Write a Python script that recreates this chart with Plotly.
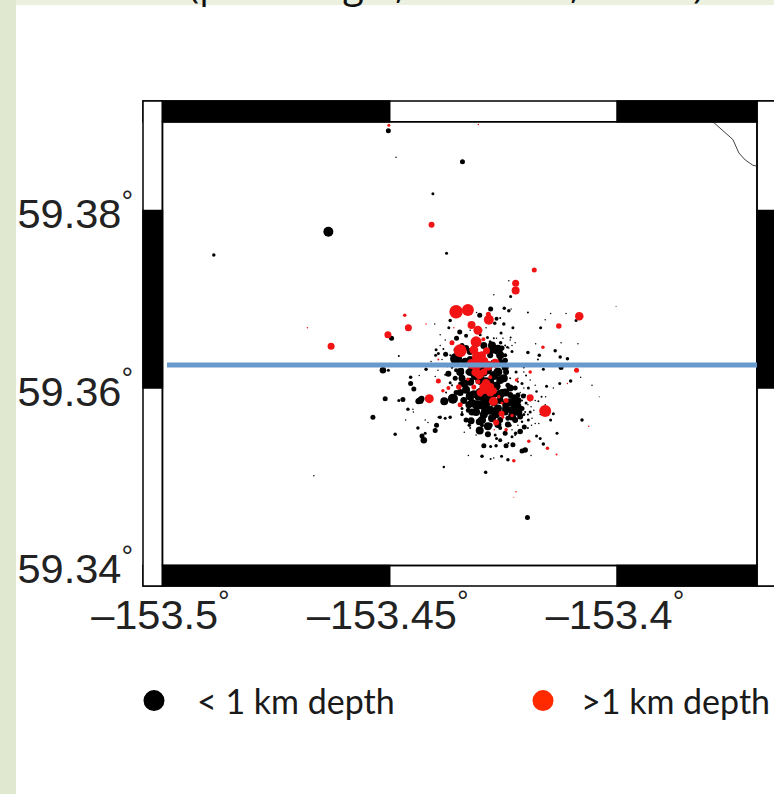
import plotly.graph_objects as go

# Earthquakes shallower than 1 km (lon, lat, marker diameter)
black_lon = [
-153.4503,-153.4486,-153.4340,-153.4405,-153.4375,-153.4635,-153.4887,-153.4002,-153.4496,-153.4480,
-153.4399,-153.4393,-153.4409,-153.4515,-153.4503,-153.4420,-153.4454,-153.4435,-153.4400,-153.4454,
-153.4447,-153.4510,-153.4480,-153.4471,-153.4430,-153.4437,-153.4433,-153.4460,-153.4449,-153.4448,
-153.4537,-153.4465,-153.4422,-153.4416,-153.4392,-153.4397,-153.4400,-153.4422,-153.4438,-153.4488,
-153.4429,-153.4425,-153.4667,-153.4381,-153.4288,-153.4197,
-153.4238,-153.4234,-153.4271,-153.4248,-153.4238,-153.4233,-153.4278,-153.4302,-153.4309,-153.4265,
-153.4257,-153.4269,-153.4249,-153.4229,-153.4255,-153.4265,-153.4234,-153.4367,-153.4401,-153.4370,
-153.4346,-153.4389,-153.4332,-153.4353,-153.4301,-153.4285,-153.4271,-153.4279,-153.4256,-153.4241,
-153.4238,-153.4196,-153.4146,-153.4112,-153.4090,-153.4158,-153.4168,-153.4179,-153.4123,-153.4086,
-153.4136,-153.4196,-153.4171,-153.4125,-153.4109,-153.4174,-153.4246,-153.4205,-153.4162,-153.4123,
-153.4080,-153.4102,-153.4126,-153.4155,-153.4140,-153.4055,-153.4039,-153.4195,-153.4177,-153.4206,
-153.4166,-153.4157,-153.4173,-153.4189,-153.4140,-153.4146,-153.4077,-153.4132,-153.4177,-153.4172,
-153.4180,-153.4188,-153.4195,-153.4204,-153.4213,-153.4223,-153.4169,-153.4162,-153.4202,-153.4209,
-153.4189,-153.4229,-153.4244,-153.4239,-153.4257,-153.4265,-153.4293,-153.4278,-153.4266,-153.4297,
-153.4327,-153.4278,-153.4271,-153.4254,-153.4240,-153.4289,-153.4302,-153.4284,-153.4303,-153.4321,
-153.4325,-153.4336,-153.4341,-153.4367,-153.4389,-153.4378,-153.4361,-153.4380,-153.4371,-153.4356,
-153.4354,-153.4382,-153.4398,-153.4377,-153.4326,-153.4342,-153.4353,-153.4221,-153.4224,-153.4217,
-153.4341,-153.4323,-153.4275,-153.4262,-153.4279,-153.4334,-153.4246,-153.4231,-153.4257,-153.4235,
-153.4323,-153.4306,-153.4284,-153.4262,-153.4244,-153.4222,-153.4341,-153.4323,-153.4301,-153.4279,
-153.4257,-153.4240,-153.4224,-153.4209,-153.4332,-153.4315,-153.4293,-153.4271,-153.4253,-153.4235,
-153.4218,-153.4337,-153.4319,-153.4301,-153.4279,-153.4262,-153.4246,-153.4231,-153.4209,-153.4200,
-153.4191,-153.4310,-153.4293,-153.4275,-153.4257,-153.4240,-153.4224,-153.4205,-153.4306,-153.4284,
-153.4257,-153.4354,-153.4345,-153.4367,-153.4354,-153.4374,-153.4297,-153.4279,-153.4257,-153.4235,
-153.4246,-153.4231,-153.4268,-153.4327,-153.4341,-153.4319,-153.4202,-153.4191,-153.4218,-153.4200,
-153.4213,-153.4191,-153.4180,-153.4235,-153.4328,-153.4312,-153.4273,-153.4253,-153.4227,-153.4213,
-153.4244,-153.4270,-153.4288,
-153.4213,-153.4205,-153.4196,-153.4213,-153.4231,-153.4218,-153.4196,-153.4183,-153.4169,-153.4187,
-153.4158,-153.4235,-153.4251,-153.4224,-153.4323,-153.4288,-153.4378,-153.4389,-153.4356,-153.4394,
-153.4345,-153.4315,-153.4293,-153.4271,-153.4249,-153.4336,-153.4312,-153.4288,-153.4266,-153.4246,
-153.4345,-153.4323,-153.4301,-153.4279,-153.4257,-153.4235,-153.4310,-153.4288,-153.4266,-153.4244,
-153.4297,-153.4284,-153.4262,-153.4240,-153.4319,-153.4332,-153.4231,-153.4227,-153.4218,-153.4235,
-153.4246,-153.4275,-153.4293,-153.4310,-153.4257,-153.4290,-153.4354,-153.4332,-153.4301,-153.4323,
-153.4209,-153.4202,-153.4196,-153.4180,-153.4224,-153.4209,-153.4196,-153.4218,-153.4205,-153.4231,
-153.4246,-153.4367,-153.4385,-153.4363,-153.4378,-153.4363,-153.4376,-153.4341,-153.4323,-153.4310]
black_lat = [
59.3890,59.3860,59.3855,59.3819,59.3752,59.3776,59.3750,59.3692,59.3656,59.3636,
59.3637,59.3639,59.3630,59.3620,59.3620,59.3621,59.3612,59.3614,59.3613,59.3605,
59.3599,59.3588,59.3586,59.3587,59.3588,59.3585,59.3586,59.3576,59.3576,59.3573,
59.3567,59.3564,59.3564,59.3561,59.3567,59.3558,59.3552,59.3549,59.3555,59.3548,
59.3546,59.3541,59.3501,59.3511,59.3504,59.3454,
59.3721,59.3703,59.3705,59.3690,59.3687,59.3689,59.3689,59.3682,59.3685,59.3678,
59.3679,59.3673,59.3672,59.3668,59.3662,59.3656,59.3657,59.3676,59.3672,59.3668,
59.3663,59.3660,59.3659,59.3656,59.3660,59.3657,59.3656,59.3652,59.3651,59.3646,
59.3645,59.3685,59.3684,59.3684,59.3676,59.3677,59.3668,59.3650,59.3651,59.3650,
59.3642,59.3640,59.3637,59.3635,59.3633,59.3632,59.3631,59.3623,59.3621,59.3623,
59.3612,59.3608,59.3605,59.3602,59.3600,59.3603,59.3590,59.3600,59.3596,59.3591,
59.3590,59.3590,59.3585,59.3579,59.3571,59.3564,59.3564,59.3549,59.3546,59.3560,
59.3560,59.3558,59.3564,59.3556,59.3551,59.3549,59.3543,59.3537,59.3530,59.3529,
59.3524,59.3536,59.3535,59.3538,59.3541,59.3543,59.3535,59.3534,59.3535,59.3523,
59.3524,59.3520,59.3521,59.3523,59.3519,59.3505,59.3552,59.3548,59.3562,59.3563,
59.3558,59.3550,59.3570,59.3567,59.3567,59.3566,59.3588,59.3585,59.3616,59.3611,
59.3633,59.3644,59.3643,59.3638,59.3581,59.3620,59.3628,59.3579,59.3585,59.3573,
59.3648,59.3641,59.3648,59.3643,59.3637,59.3629,59.3637,59.3641,59.3629,59.3626,
59.3618,59.3623,59.3620,59.3618,59.3618,59.3618,59.3611,59.3607,59.3609,59.3607,
59.3609,59.3603,59.3600,59.3605,59.3598,59.3593,59.3589,59.3584,59.3595,59.3592,
59.3592,59.3586,59.3583,59.3581,59.3575,59.3577,59.3573,59.3575,59.3577,59.3583,
59.3573,59.3573,59.3570,59.3566,59.3564,59.3566,59.3564,59.3570,59.3589,59.3595,
59.3586,59.3595,59.3605,59.3606,59.3620,59.3625,59.3558,59.3558,59.3555,59.3558,
59.3549,59.3545,59.3547,59.3575,59.3577,59.3564,59.3592,59.3586,59.3607,59.3614,
59.3626,59.3609,59.3603,59.3611,59.3618,59.3634,59.3629,59.3645,59.3589,59.3568,
59.3582,59.3593,59.3582,
59.3595,59.3600,59.3591,59.3586,59.3553,59.3558,59.3581,59.3575,59.3570,59.3566,
59.3581,59.3654,59.3656,59.3651,59.3665,59.3668,59.3654,59.3648,59.3641,59.3620,
59.3618,59.3629,59.3618,59.3614,59.3611,59.3605,59.3614,59.3607,59.3602,59.3595,
59.3595,59.3591,59.3595,59.3589,59.3593,59.3584,59.3581,59.3575,59.3571,59.3577,
59.3564,59.3557,59.3559,59.3559,59.3573,59.3564,59.3568,59.3575,59.3586,59.3600,
59.3623,59.3643,59.3648,59.3654,59.3637,59.3626,59.3643,59.3645,59.3636,59.3632,
59.3586,59.3573,59.3570,59.3586,59.3547,59.3562,59.3555,59.3611,59.3618,59.3648,
59.3648,59.3637,59.3632,59.3623,59.3615,59.3603,59.3595,59.3573,59.3555,59.3547]
black_mag = [
5,1.5,5,3,3,10,3.5,1,5,2,
3,3,1.5,6.5,3,3.5,3.5,1.5,1.5,5,
5,5,3,5,6,6,7,3.5,1.5,1.5,
5,1.5,1.5,1.5,2.5,5,5,3,3.5,3.5,
5,6.5,1.5,2.5,1.5,5,
1.5,3,1.5,3.5,3.5,1.5,5,5,1.5,4,
2,3.5,3.5,3,3,1.5,2,3.5,1.5,3,
5,1.5,4,5,3,3,2,3,3.5,2.5,
1.5,2,1.5,1.5,3,1.5,3,1.5,1.5,1.5,
3.5,3.5,3.5,3.5,3.5,2,5.5,2,3,5,
1.5,3.5,3,3,1.5,1.5,1,3,2.5,5,
2,1.5,2,1.5,3,3,3.5,3,3,1.5,
1.5,1.5,3,5,5.5,3.5,3,3.5,5.5,5,
1.5,5,5,2,4,3,5,3,3.5,3.5,
1.5,2,1.5,3,3.5,3.5,8,6,7,7,
3.5,1.5,3.5,3.5,3.5,3,10,8,6,5,
12,2,3,5,7,5,5,10,7,8,
5,7,8,10,6,9,4,3,7,4,
8,9,8,9,6,3,7,8,10,8,
8,5,5,3,8,8,9,8,7,6,
5,7,8,9,9,8,7,8,5,3,
3,8,8,8,6,5,6,3,6,7,
7,5,4,3,4,3,4,5,4,3,
5,3,3,5,3,3,2,2,2,2,
2,1.5,1.5,2,5,5,5,5,7,6,
8,7,8,
1.5,1.5,1.5,1.5,1.5,1.5,1.5,1.5,1.5,1.5,
1.5,1.5,1.5,1.5,1.5,1.5,1.5,1.5,1.5,1.5,
8,8,9,9,8,8,9,9,9,8,
7,9,9,9,9,8,9,10,9,8,
8,8,7,6,7,5,8,9,7,7,
7,8,7,5,8,8,5,6,6,7,
2,2,2,1.5,2,2.5,2,1.5,1.5,1.5,
2,2,1.5,2.5,2,2,2,2,2,1.5]

# Earthquakes deeper than 1 km (lon, lat, marker diameter)
red_lon = [
-153.4182,-153.4223,-153.4223,-153.4083,-153.4128,-153.4354,-153.4328,-153.4282,-153.4283,-153.4320,
-153.4306,-153.4467,-153.4459,-153.4420,-153.4359,-153.4310,-153.4363,-153.4294,-153.4345,-153.4315,
-153.4287,-153.4307,-153.4320,-153.4294,-153.4268,-153.4303,-153.4316,-153.4279,-153.4393,-153.4221,
-153.4191,-153.4089,-153.4163,-153.4393,-153.4371,-153.4383,-153.4348,-153.4413,-153.4328,-153.4315,
-153.4294,-153.4279,-153.4294,-153.4272,-153.4300,-153.4283,-153.4272,-153.4260,-153.4244,-153.4253,
-153.4345,-153.4191,-153.4158,-153.4254,-153.4266,-153.4231,-153.4251,-153.4244,-153.4270,-153.4194,
-153.4153,-153.4133,-153.4227,-153.4062,-153.4109,-153.4502,-153.4305,-153.4408,-153.4629,-153.4681,
-153.4504,-153.4222,-153.4227,
-153.4306,-153.4284,-153.4297,-153.4310,-153.4293,-153.4288,-153.4301,-153.4279,-153.4306]
red_lat = [
59.3733,59.3718,59.3710,59.3681,59.3670,59.3686,59.3688,59.3677,59.3683,59.3671,
59.3665,59.3682,59.3668,59.3672,59.3668,59.3652,59.3651,59.3655,59.3642,59.3643,
59.3642,59.3635,59.3627,59.3630,59.3628,59.3615,59.3617,59.3612,59.3608,59.3609,
59.3618,59.3620,59.3646,59.3632,59.3600,59.3597,59.3601,59.3588,59.3610,59.3601,
59.3601,59.3601,59.3597,59.3597,59.3592,59.3596,59.3585,59.3590,59.3586,59.3583,
59.3581,59.3589,59.3574,59.3571,59.3561,59.3569,59.3567,59.3553,59.3553,59.3540,
59.3532,59.3525,59.3518,59.3557,59.3605,59.3896,59.3897,59.3784,59.3647,59.3668,
59.3660,59.3483,59.3477,
59.3628,59.3625,59.3637,59.3618,59.3618,59.3605,59.3595,59.3595,59.3607]
red_mag = [
5,7,8,8.5,5.5,13.5,12,10,5,8,
9,3.5,7,1.5,1.5,11,5,4,13,9,
7,11,10,10,9,9,4,4,5,3.5,
3.5,5,3.5,2,4,3.5,5.5,9,3.5,5,
8,8,7,7,3.5,6,9,3.5,5,3,
5,7,12,6,6,3.5,3,3.5,1.5,3.5,
3.5,2,3.5,1.5,1.5,3,1.5,6,7,1.5,
7,1.5,1,
12,10,8,9,7,9,7,8,5]

profile_lon = [-153.4990, -153.3692]
profile_lat = [59.3626, 59.3626]
coast_lon = [-153.3789, -153.3761, -153.3745, -153.3732, -153.3718, -153.3701, -153.3692]
coast_lat = [59.3900, 59.3887, 59.3880, 59.3865, 59.3857, 59.3851, 59.3850]

x_ticks = [-153.5, -153.45, -153.4]
x_labels = ["–153.5<sup>°</sup>", "–153.45<sup>°</sup>", "–153.4<sup>°</sup>"]
y_ticks = [59.38, 59.36, 59.34]
y_labels = ["59.38<sup>°</sup>", "59.36<sup>°</sup>", "59.34<sup>°</sup>"]
legend_names = ["< 1 km depth", ">1 km depth"]
clipped_title = [("(p", 205), ("g", 353), (",", 400), (",", 575), (")", 698)]

# Map frame values
LON_W, LON_E = -153.5, -153.3692
LAT_S, LAT_N = 59.34, 59.39
OUT_W, OUT_E, OUT_S, OUT_N = -153.50428, -153.36, 59.33769, 59.39234
lon_bands = [(-153.5, -153.45), (-153.4, LON_E)]
lat_band = (59.36, 59.38)

W, H = 774, 794
L, R, T, B = 141, 0, 99, 206
px_w, px_h = W - L - R, H - T - B

fig = go.Figure()
fig.add_trace(go.Scatter(x=coast_lon, y=coast_lat, mode="lines", showlegend=False,
                         line=dict(color="#111111", width=0.8)))
fig.add_trace(go.Scatter(x=black_lon, y=black_lat, mode="markers", showlegend=False,
                         marker=dict(color="#000000", size=black_mag, opacity=1, line=dict(width=0))))
fig.add_trace(go.Scatter(x=red_lon, y=red_lat, mode="markers", showlegend=False,
                         marker=dict(color="#F21414", size=red_mag, opacity=1, line=dict(width=0))))
fig.add_trace(go.Scatter(x=profile_lon, y=profile_lat, mode="lines", showlegend=False,
                         line=dict(color="#6699CC", width=5)))
fig.add_trace(go.Scatter(x=[None], y=[None], mode="markers", name=legend_names[0], legend="legend",
                         marker=dict(color="#000000", size=16, line=dict(color="#000000", width=5))))
fig.add_trace(go.Scatter(x=[None], y=[None], mode="markers", name=legend_names[1], legend="legend2",
                         marker=dict(color="#FF2A00", size=16, line=dict(color="#FF2A00", width=5))))

shapes = []
def rect(x0, x1, y0, y1, fill):
    shapes.append(dict(type="rect", xref="x", yref="y", x0=x0, x1=x1, y0=y0, y1=y1,
                       fillcolor=fill, line=dict(color="#000000", width=1.5), layer="below"))

rect(OUT_W, OUT_E, LAT_N, OUT_N, "white")
rect(OUT_W, OUT_E, OUT_S, LAT_S, "white")
rect(OUT_W, LON_W, OUT_S, OUT_N, "white")
rect(LON_E, OUT_E, OUT_S, OUT_N, "white")
for a, b in lon_bands:
    rect(a, b, LAT_N, OUT_N, "black")
    rect(a, b, OUT_S, LAT_S, "black")
rect(OUT_W, LON_W, lat_band[0], lat_band[1], "black")
rect(LON_E, OUT_E, lat_band[0], lat_band[1], "black")
rect(LON_W, LON_E, LAT_S, LAT_N, "rgba(0,0,0,0)")

# Slide background strips around the white panel
def page_rect(x0, x1, y0, y1, fill):
    shapes.append(dict(type="rect", xref="paper", yref="paper",
                       x0=(x0 - L) / px_w, x1=(x1 - L) / px_w,
                       y0=(H - B - y1) / px_h, y1=(H - B - y0) / px_h,
                       fillcolor=fill, line=dict(width=0), layer="below"))
page_rect(16, W, 0, 5, "#EBF0DF")
page_rect(0, 16, 0, H, "#E1E8D0")

annotations = [dict(text=t, xref="paper", yref="paper", x=(px - L) / px_w,
                    y=(H - B - 11) / px_h, xanchor="center", yanchor="bottom", showarrow=False,
                    font=dict(family="Open Sans", size=38, color="#111111"))
               for t, px in clipped_title]

legend_common = dict(orientation="h", xanchor="left", yanchor="middle",
                     bgcolor="rgba(0,0,0,0)",
                     font=dict(family="Lato", size=34, color="#1a1a1a"))

fig.update_layout(
    width=W, height=H, autosize=False,
    margin=dict(l=L, r=R, t=T, b=B, pad=0, autoexpand=False),
    paper_bgcolor="white", plot_bgcolor="white",
    shapes=shapes, annotations=annotations,
    xaxis=dict(range=[-153.50472, -153.36546], tickmode="array", tickvals=x_ticks, ticktext=x_labels,
               showgrid=False, zeroline=False, showline=False, ticks="", ticklabelstandoff=-2,
               ticklabelshift=-2,
               tickfont=dict(family="Liberation Sans", size=41.5, color="#222222")),
    yaxis=dict(range=[59.33746, 59.39257], tickmode="array", tickvals=y_ticks, ticktext=y_labels,
               showgrid=False, zeroline=False, showline=False, ticks="", ticklabelstandoff=7,
               ticklabelshift=3,
               tickfont=dict(family="Liberation Sans", size=41.5, color="#222222")),
    legend=dict(x=(111 - L) / px_w, y=(H - B - 701) / px_h, itemwidth=76, **legend_common),
    legend2=dict(x=(505 - L) / px_w, y=(H - B - 701) / px_h, itemwidth=66, **legend_common),
)

fig.write_html("out.html", config={"displayModeBar": False},
               post_script="document.body.style.margin='0';document.body.style.overflow='hidden';")
